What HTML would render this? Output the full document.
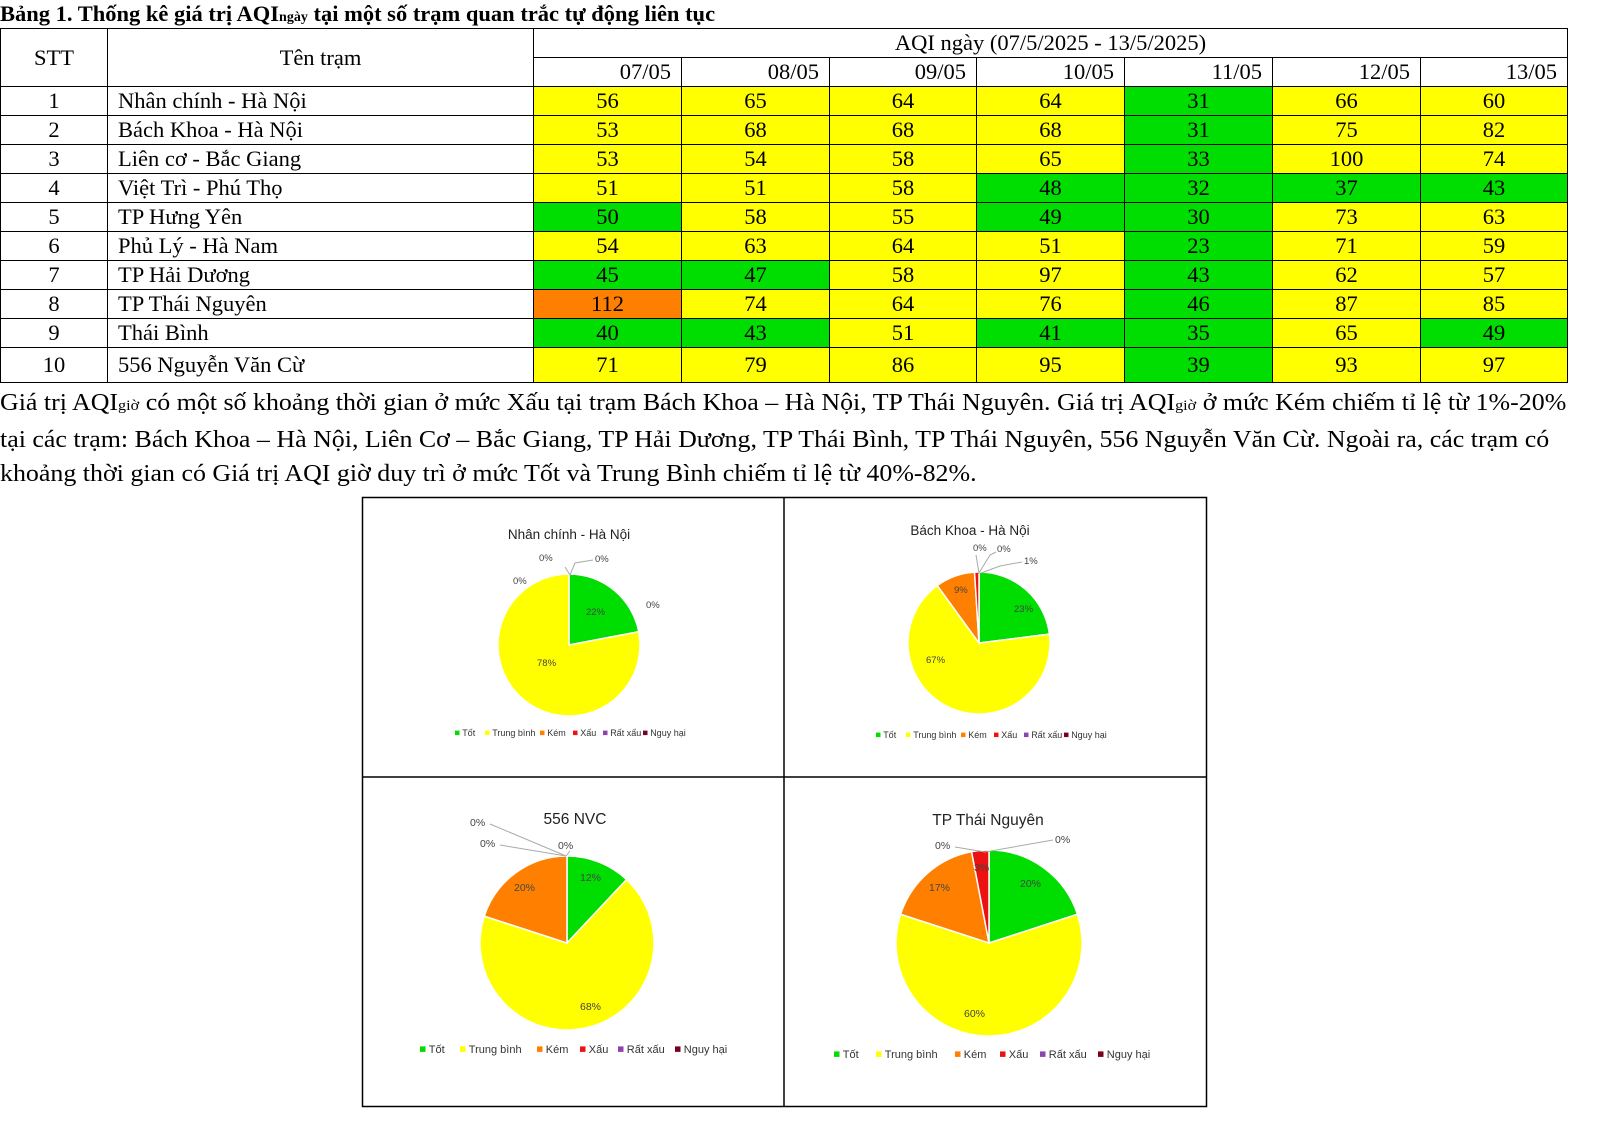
<!DOCTYPE html>
<html><head><meta charset="utf-8">
<style>
body{margin:0;width:1600px;height:1132px;background:#fff;position:relative;overflow:hidden;font-family:"Liberation Serif",serif;color:#000}
.t{position:absolute;white-space:nowrap}
table{position:absolute;left:0;top:28px;border-collapse:collapse;font-size:22.5px}
td{border:1.5px solid #000;padding:0;height:28px;line-height:28px;text-align:center}
td.n{text-align:left;padding-left:10px}
td.v{text-align:right;padding-right:35px}
.g{background:#00dd00}.y{background:#ffff00}.o{background:#ff8000}
p{position:absolute;left:0;top:386px;margin:0;font-size:24px;line-height:34px;width:1500px;white-space:nowrap;transform:scaleX(1.08);transform-origin:0 0}
svg text{font-family:"Liberation Sans",sans-serif}
</style></head><body>
<div class="t" style="left:0;top:1px;font-size:22.5px;font-weight:bold">Bảng 1. Thống kê giá trị AQI<span style="font-size:14px">ngày</span> tại một số trạm quan trắc tự động liên tục</div>
<table>
<colgroup><col style="width:107px"><col style="width:426px"><col style="width:148px"><col style="width:148px"><col style="width:147px"><col style="width:148px"><col style="width:148px"><col style="width:148px"><col style="width:147px"></colgroup>
<tr><td rowspan="2">STT</td><td rowspan="2">Tên trạm</td><td colspan="7">AQI ngày (07/5/2025 - 13/5/2025)</td></tr>
<tr><td class="v" style="padding-right:10px">07/05</td><td class="v" style="padding-right:10px">08/05</td><td class="v" style="padding-right:10px">09/05</td><td class="v" style="padding-right:10px">10/05</td><td class="v" style="padding-right:10px">11/05</td><td class="v" style="padding-right:10px">12/05</td><td class="v" style="padding-right:10px">13/05</td></tr>
<tr><td>1</td><td class="n">Nhân chính - Hà Nội</td><td class="y">56</td><td class="y">65</td><td class="y">64</td><td class="y">64</td><td class="g">31</td><td class="y">66</td><td class="y">60</td></tr>
<tr><td>2</td><td class="n">Bách Khoa - Hà Nội</td><td class="y">53</td><td class="y">68</td><td class="y">68</td><td class="y">68</td><td class="g">31</td><td class="y">75</td><td class="y">82</td></tr>
<tr><td>3</td><td class="n">Liên cơ - Bắc Giang</td><td class="y">53</td><td class="y">54</td><td class="y">58</td><td class="y">65</td><td class="g">33</td><td class="y">100</td><td class="y">74</td></tr>
<tr><td>4</td><td class="n">Việt Trì - Phú Thọ</td><td class="y">51</td><td class="y">51</td><td class="y">58</td><td class="g">48</td><td class="g">32</td><td class="g">37</td><td class="g">43</td></tr>
<tr><td>5</td><td class="n">TP Hưng Yên</td><td class="g">50</td><td class="y">58</td><td class="y">55</td><td class="g">49</td><td class="g">30</td><td class="y">73</td><td class="y">63</td></tr>
<tr><td>6</td><td class="n">Phủ Lý - Hà Nam</td><td class="y">54</td><td class="y">63</td><td class="y">64</td><td class="y">51</td><td class="g">23</td><td class="y">71</td><td class="y">59</td></tr>
<tr><td>7</td><td class="n">TP Hải Dương</td><td class="g">45</td><td class="g">47</td><td class="y">58</td><td class="y">97</td><td class="g">43</td><td class="y">62</td><td class="y">57</td></tr>
<tr><td>8</td><td class="n">TP Thái Nguyên</td><td class="o">112</td><td class="y">74</td><td class="y">64</td><td class="y">76</td><td class="g">46</td><td class="y">87</td><td class="y">85</td></tr>
<tr><td>9</td><td class="n">Thái Bình</td><td class="g">40</td><td class="g">43</td><td class="y">51</td><td class="g">41</td><td class="g">35</td><td class="y">65</td><td class="g">49</td></tr>
<tr><td style="height:34px">10</td><td class="n">556 Nguyễn Văn Cừ</td><td class="y">71</td><td class="y">79</td><td class="y">86</td><td class="y">95</td><td class="g">39</td><td class="y">93</td><td class="y">97</td></tr>
</table>
<p>Giá trị AQI<span style="font-size:15px">giờ</span> có một số khoảng thời gian ở mức Xấu tại trạm Bách Khoa – Hà Nội, TP Thái Nguyên. Giá trị AQI<span style="font-size:15px">giờ</span> ở mức Kém chiếm tỉ lệ từ 1%-20%<br>tại các trạm: Bách Khoa – Hà Nội, Liên Cơ – Bắc Giang, TP Hải Dương, TP Thái Bình, TP Thái Nguyên, 556 Nguyễn Văn Cừ. Ngoài ra, các trạm có<br>khoảng thời gian có Giá trị AQI giờ duy trì ở mức Tốt và Trung Bình chiếm tỉ lệ từ 40%-82%.</p>
<svg style="position:absolute;left:0;top:0" width="1600" height="1132">
<rect x="362.5" y="497.5" width="844" height="609" fill="none" stroke="#000" stroke-width="1.5"/>
<line x1="784" y1="497" x2="784" y2="1106" stroke="#000" stroke-width="1.5"/>
<line x1="362" y1="777" x2="1206" y2="777" stroke="#000" stroke-width="1.5"/>
<g id="pies"></g>
<g font-size="9.5" fill="#444">
<text x="569" y="539" font-size="13.5" text-anchor="middle" fill="#222">Nhân chính - Hà Nội</text>
<text x="539" y="561">0%</text><text x="595" y="562">0%</text><text x="513" y="584">0%</text><text x="646" y="608">0%</text>
<text x="586" y="615">22%</text><text x="537" y="666">78%</text>
<polyline points="565,567 570,575 575,563 593,560" fill="none" stroke="#aaa"/>
<text x="970" y="535" font-size="13.5" text-anchor="middle" fill="#222">Bách Khoa - Hà Nội</text>
<text x="973" y="551">0%</text><text x="997" y="552">0%</text><text x="1024" y="564">1%</text>
<text x="954" y="593">9%</text><text x="1014" y="612">23%</text><text x="926" y="663">67%</text>
<polyline points="976,555 979,573 990,555 996,552" fill="none" stroke="#aaa"/><polyline points="981,573 1000,566 1022,562" fill="none" stroke="#aaa"/>
<text x="575" y="824" font-size="15.5" text-anchor="middle" fill="#222">556 NVC</text>
<text x="470" y="826" font-size="10.5">0%</text><text x="480" y="847" font-size="10.5">0%</text><text x="558" y="849" font-size="10.5">0%</text>
<text x="580" y="881" font-size="10.5">12%</text><text x="514" y="891" font-size="10.5">20%</text><text x="580" y="1010" font-size="10.5">68%</text>
<polyline points="490,824 566,856 500,845" fill="none" stroke="#aaa"/><polyline points="566,856 570,851" fill="none" stroke="#aaa"/>
<text x="988" y="825" font-size="15.5" text-anchor="middle" fill="#222">TP Thái Nguyên</text>
<text x="935" y="849" font-size="10.5">0%</text><text x="1055" y="843" font-size="10.5">0%</text>
<text x="1020" y="887" font-size="10.5">20%</text><text x="929" y="891" font-size="10.5">17%</text><text x="974" y="871" font-size="10.5">3%</text><text x="964" y="1017" font-size="10.5">60%</text>
<polyline points="955,847 985,852 1053,840" fill="none" stroke="#aaa"/>
</g>
<g font-size="9" fill="#333" id="leg"></g>
</svg>
<script>
var C=['#00dd00','#ffff00','#ff8000','#ee1111','#8e44ad','#7a0020'];
function pie(cx,cy,r,v){var a=0,s='';v.forEach(function(p,i){if(!p)return;var b=a+p*2*Math.PI/100;
var x1=cx+r*Math.sin(a),y1=cy-r*Math.cos(a),x2=cx+r*Math.sin(b),y2=cy-r*Math.cos(b);
s+='<path d="M'+cx+','+cy+'L'+x1+','+y1+'A'+r+','+r+' 0 '+(p>50?1:0)+' 1 '+x2+','+y2+'Z" fill="'+C[i]+'" stroke="#fff" stroke-width="1.5"/>';a=b;});return s;}
document.getElementById('pies').innerHTML=pie(569,645,71,[22,78])+pie(979,643,71,[23,67,9,1])+pie(567,943,87,[12,68,20])+pie(989,943,93,[20,60,17,3]);
var L=['Tốt','Trung bình','Kém','Xấu','Rất xấu','Nguy hại'];
function leg(x,y,fs,gaps){var s='',cx=x;L.forEach(function(t,i){s+='<rect x="'+cx+'" y="'+(y-fs*0.6)+'" width="'+fs*0.5+'" height="'+fs*0.5+'" fill="'+C[i]+'"/><text x="'+(cx+fs*0.8)+'" y="'+y+'" font-size="'+fs+'">'+t+'</text>';cx+=gaps[i];});return s;}
document.getElementById('leg').innerHTML=leg(455,736,9,[30,55,33,30,40])+leg(876,738,9,[30,55,33,30,40])+leg(420,1053,11,[40,77,43,38,57])+leg(834,1058,11,[42,79,45,40,58]);
</script>
</body></html>
